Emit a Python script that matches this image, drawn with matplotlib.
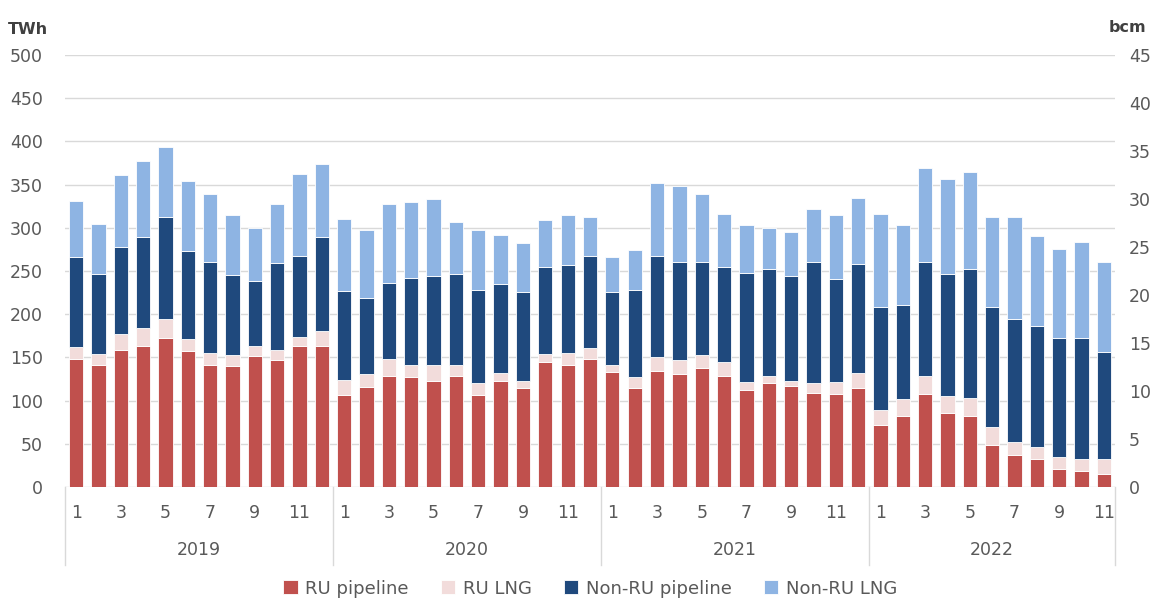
import matplotlib.pyplot as plt
import matplotlib.transforms as mtransforms
import numpy as np

years = ["2019", "2020", "2021", "2022"]
months_per_year = [12, 12, 12, 11]

# cumulative tops (TWh)
ru_pipe = [148.5, 141.6, 158.6, 162.8, 172.8, 157.4, 141.6, 140.0, 151.2, 147.4, 162.8, 162.8,
           106.1, 116.1, 128.8, 127.3, 123.1, 128.8, 106.1, 123.1, 114.6, 144.3, 141.6, 148.5,
           133.1, 114.6, 134.6, 130.4, 137.3, 128.8, 111.9, 120.4, 117.3, 108.8, 107.6, 114.6,
           72.1, 81.8, 107.3, 86.0, 81.8, 49.0, 36.6, 32.4, 20.8, 18.1, 15.4]
ru_lng_top = [162, 154, 176.7, 183.6, 195, 171, 155.5, 152.4, 162.8, 158.2, 174, 181,
              124.2, 130.4, 148.5, 141.6, 141.6, 141.6, 120, 131.6, 123.1, 154, 155.5, 161.3,
              141.6, 127.3, 150.1, 147, 152.8, 144.3, 121.5, 128.8, 123.1, 120, 121.5, 131.6,
              88.7, 101.5, 128.8, 105.7, 103, 69.1, 51.7, 46.3, 35.1, 32, 32]
nonru_pipe_top = [266, 246.5, 277.8, 289, 313, 273.5, 260.8, 245, 238, 259, 267.8, 289,
                  226.5, 218.4, 236.5, 242.3, 243.8, 246.5, 228, 235.3, 225.3, 255, 256.5, 267.8,
                  225.3, 228, 267.8, 260.8, 260.8, 255, 248, 252.3, 243.8, 260.8, 240.7, 257.7,
                  208, 211, 260.8, 246.5, 252.3, 208, 194, 186.7, 172.5, 172.5, 155.9]
total_top = [331, 304, 361, 377, 393, 354, 338.7, 314.4, 300, 327, 362.7, 373.8,
             310, 297.5, 327.5, 330.2, 333, 306.3, 297.5, 292, 282, 308.6, 314.4, 312.9,
             266, 274.7, 351.5, 348.8, 338.7, 316, 302.8, 300, 294.7, 321.4, 314.4, 334.1,
             316, 302.8, 369.6, 356.8, 364.2, 312.9, 312.9, 290.1, 275.1, 283.2, 260.4]

ru_pipe = np.array(ru_pipe)
ru_lng = np.array(ru_lng_top) - ru_pipe
nonru_pipe = np.array(nonru_pipe_top) - np.array(ru_lng_top)
nonru_lng = np.array(total_top) - np.array(nonru_pipe_top)

months = []
for n in months_per_year:
    months += list(range(1, n + 1))
x = np.arange(len(months))

colors = ["#C0504D", "#F2DCDB", "#1F497D", "#8EB4E3"]
labels = ["RU pipeline", "RU LNG", "Non-RU pipeline", "Non-RU LNG"]
grey = "#595959"

fig = plt.figure(figsize=(11.5, 6.01), dpi=100)
ax = fig.add_axes([65 / 1150, 1 - 487 / 601, 1050 / 1150, 432 / 601])

bottom = np.zeros(len(x))
for vals, c, lab in zip([ru_pipe, ru_lng, nonru_pipe, nonru_lng], colors, labels):
    ax.bar(x, vals, bottom=bottom, width=0.64, color=c, edgecolor="white",
           linewidth=0.6, label=lab, zorder=3)
    bottom += vals

ax.set_xlim(-0.5, len(x) - 0.5)
ax.set_ylim(0, 500)
ax.set_yticks(range(0, 501, 50))
ax.grid(axis="y", color="#d9d9d9", linewidth=1, zorder=0)
for s in ["top", "right", "left", "bottom"]:
    ax.spines[s].set_visible(False)
ax.tick_params(axis="y", length=0, labelsize=12.5, labelcolor=grey, pad=16)

odd = [i for i, m in enumerate(months) if m % 2 == 1]
ax.set_xticks(odd)
ax.set_xticklabels([str(months[i]) for i in odd])
ax.tick_params(axis="x", length=0, labelsize=12.5, labelcolor=grey, pad=12)

# year separators and labels
trans = mtransforms.blended_transform_factory(ax.transData, ax.transAxes)
start = 0
edges = [-0.5]
for yr, n in zip(years, months_per_year):
    ax.text(start + (n - 1) / 2, -0.145, yr, transform=trans, ha="center", va="center",
            fontsize=12.5, color=grey)
    start += n
    edges.append(start - 0.5)
for e in edges:
    ax.plot([e, e], [0, -0.18], transform=trans, color="#d9d9d9", linewidth=1, clip_on=False)

ax2 = ax.twinx()
ax2.set_ylim(0, 45)
ax2.set_yticks(range(0, 46, 5))
for s in ["top", "right", "left", "bottom"]:
    ax2.spines[s].set_visible(False)
ax2.tick_params(axis="y", length=0, labelsize=12.5, labelcolor=grey, pad=10)

fig.text(8 / 1150, 1 - 30 / 601, "TWh", fontsize=11.5, fontweight="bold", color="#404040",
         va="center")
fig.text(1146 / 1150, 1 - 28 / 601, "bcm", fontsize=11.5, fontweight="bold", color="#404040",
         va="center", ha="right")

ax.legend(loc="center", bbox_to_anchor=(0.5, -0.235), ncol=4, frameon=False,
          fontsize=13, handlelength=0.8, handleheight=0.8, handletextpad=0.4,
          columnspacing=1.8, labelcolor=grey)

fig.savefig("out.png", dpi=100)
